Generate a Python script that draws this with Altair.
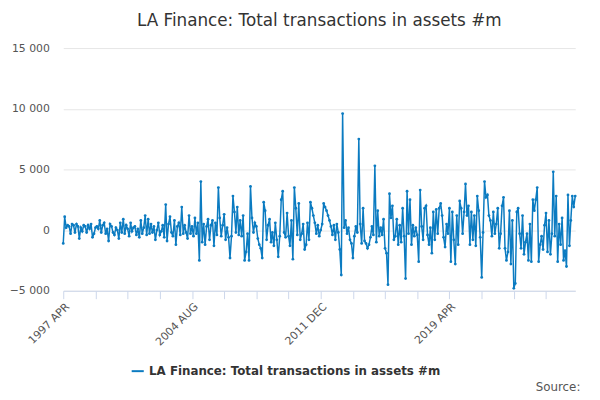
import altair as alt
import pandas as pd

series_name = "LA Finance: Total transactions in assets #m"

seg1 = [-1100, 1100, 200, 400, 300, -300, 500, 400, -200, 500, 300,
        -700, 200, -100, 400, 300, -200, 400, 100, 500, -600, -300,
        200, 300, 100, 800, -200, 400, 600, -300, 100, -900, 500,
        300, -200, -400, 200, 0, -700, 600, -200, 900, -300, 400,
        100, -500, 600, -100, 200, 300, -400, 100, -600, 800, -300,
        200, 1200, -400, 900, -300, 500, -200, 300, -800, 0, 600,
        -400, -100, 400, -600, 2100, -900, 500, 1100, -200, -500, 800,
        -1200, 300, 600, -400, 1900, -300, 400, -200, -700, 1200, -300]
seg2 = [300, -500, 1000, -300, 600, -2500, 4000, -1000, 500, -1200, 300,
        900, -800, 400, 800, -1300, 600, -400, 3500, 1000, -500, 400,
        1300, -800, 200, -600, -2300, -500, 2800, 1500, -200, 1900, -400,
        800, -500, 1200, -2500, -1800, -300, -2500, 3600, 1000, -200, 600,
        300, -700, -1200, -1500, -2300, 2300, 1600, -800, 400, 900, -1000,
        -200, -1300, 600, -800, -2200, -500, 2500, 3200, -200, -600, 1400,
        -500, -1300, 800, -2400, 3500, 1800, -400, 2200, -800, -300, 500,
        -1600, -1200, 600, -800, 2300, 1800, 1200, 600, -300, 400, -500]
seg3 = [0, 500, 2200, 1900, 1600, 1200, 800, 300, -400, 400, -800,
        500, -200, -1600, -3700, 9600, 200, 800, -300, 200, -800, -1100,
        -2300, -500, 300, -200, 7500, 500, -1100, 1800, -900, -1100, -1500,
        -1200, -600, 300, -400, 5300, -1000, 1600, -500, 200, -400, 900,
        -1500, -1900, -4500, 3000, 1000, 2000, -800, -500, 900, -1200, 400,
        -1000, 1800, -500, -4000, 3200, -300, 2500, -1200, 400, -500, 200,
        -400, -2600, 3300, 300, -800, 1800, 2000, -400, -1200, 200, -1900,
        1500, -800, 1700, -300, 1800, 2200, 1200, -600, -1400, 500, -300]
seg4 = [1800, -2600, 1500, -800, -2800, 1200, -1200, 2400, 1800, -300, 1500,
        3800, 1200, 2000, -1200, 1500, -800, 1200, -1300, 2800, 1600, -600,
        -3900, -200, 4000, 2700, 2900, 1200, 800, -500, 1500, -300, 500,
        1800, -1500, -300, 2000, 2700, -1500, -2500, -1800, 1600, -2800, 800,
        -4800, -4400, 1500, 1800, -300, -1500, 1200, -2000, -1000, -300, -2500,
        500, -2600, 2500, 1600, 2500, 3500, -2600, -1200, -500, -1600, 400,
        1400, -1800, 800, -2000, -300, 4800, -500, 2800, -2600, 500, -1200,
        1000, -2500, -1700, -3000, 2900, -1300, 800, 2800, 1900, 2800]
values = seg1 + seg2 + seg3 + seg4

dates = pd.date_range("1997-04-01", periods=len(values), freq="MS").strftime("%Y-%m-%d")
df = pd.DataFrame({"date": dates, "value": values, "series": series_name})

tick_dates = pd.date_range("1997-04-01", "2026-06-01", freq="22MS")
tick_vals = [alt.DateTime(year=d.year, month=d.month, date=1, utc=True) for d in tick_dates]

blue = "#0b7bc1"

line = alt.Chart(df).mark_line(
    strokeWidth=1.5, point=alt.OverlayMarkDef(size=8, filled=True)
).encode(
    x=alt.X("date:T", scale=alt.Scale(type="utc", domain=[
        alt.DateTime(year=1997, month=4, date=1, utc=True),
        alt.DateTime(year=2026, month=6, date=1, utc=True)]),
        axis=alt.Axis(values=tick_vals, title=None, grid=False, labelAngle=-45,
                      labelExpr="((utcyear(datum.value)-1997)*12 + utcmonth(datum.value) - 3) % 88 == 0 ? upper(utcFormat(datum.value, '%Y %b')) : ''",
                      labelFontSize=11, labelColor="#555", tickColor="#ccd6eb",
                      domainColor="#ccd6eb", tickSize=8, labelFont="DejaVu Sans")),
    y=alt.Y("value:Q", scale=alt.Scale(domain=[-5000, 15000], nice=False),
            axis=alt.Axis(values=[-5000, 0, 5000, 10000, 15000], title=None, domain=False,
                          ticks=False, gridColor="#e6e6e6", labelColor="#555",
                          labelFontSize=11, labelFont="DejaVu Sans", labelPadding=14,
                          labelExpr="replace(format(datum.value, ','), ',', ' ')")),
    color=alt.Color("series:N", scale=alt.Scale(range=[blue]),
                    legend=alt.Legend(title=None, orient="none", legendX=68, legendY=320,
                                      labelFontSize=12, labelFontWeight="bold", labelLimit=0,
                                      labelColor="#333", labelFont="DejaVu Sans",
                                      symbolType="stroke", symbolStrokeWidth=2, symbolSize=150)),
)

source = alt.Chart(df.head(1)).mark_text(
    text="Source:", align="left", fontSize=12, color="#555", font="DejaVu Sans"
).encode(x=alt.value(479), y=alt.value(344))

chart = (line + source).properties(
    width=519, height=246,
    title=alt.TitleParams(series_name, fontSize=17, font="DejaVu Sans", fontWeight="normal",
                          color="#333", offset=12),
    autosize=alt.AutoSizeParams(type="none"),
    padding={"left": 56, "top": 38, "right": 17, "bottom": 100},
).configure_view(stroke=None)

chart.save("out.html", embed_options={"renderer": "svg", "actions": False})
